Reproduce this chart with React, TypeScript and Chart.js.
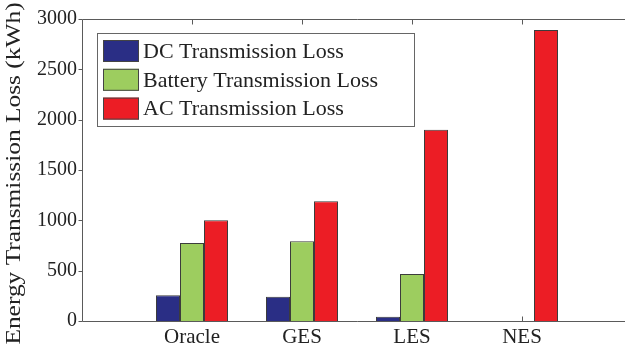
import React, { useEffect, useRef } from 'react';
import { Chart, registerables } from 'chart.js';

Chart.register(...registerables);

// Scenario names along the horizontal axis
const categories = ['Oracle', 'GES', 'LES', 'NES'];

// Energy lost per scenario (kWh)
const dcLoss = [257, 240, 42, 0];
const batteryLoss = [774, 793, 467, 0];
const acLoss = [1000, 1190, 1900, 2890];

const seriesNames = ['DC Transmission Loss', 'Battery Transmission Loss', 'AC Transmission Loss'];
const seriesColors = ['#2a2e85', '#9dcd5f', '#ec1d25'];

const yTicks = [0, 500, 1000, 1500, 2000, 2500, 3000];
const yAxisTitle = 'Energy Transmission Loss (kWh)';

const FONT = '"Liberation Serif", "Times New Roman", serif';
const AXIS_COLOR = '#5a5a5a';
const TEXT_COLOR = '#222222';

// The canvas is a little wider than the visible frame, so the right side of the axes box is cut off
const CANVAS_W = 640;
const CANVAS_H = 351;
const X_MAX = 5;

// MATLAB-like box axes, tick marks, legend and the rotated axis title
const matlabFrame = {
  id: 'matlabFrame',
  beforeDatasetsDraw(chart: any) {
    const { ctx, chartArea: a, scales } = chart;
    ctx.save();
    ctx.strokeStyle = AXIS_COLOR;
    ctx.lineWidth = 1;
    const bottom = Math.round(a.bottom) + 0.5;
    categories.forEach((_, i) => {
      const px = Math.round(scales.x.getPixelForValue(i + 1)) + 0.5;
      ctx.beginPath();
      ctx.moveTo(px, bottom);
      ctx.lineTo(px, bottom - 5);
      ctx.stroke();
    });
    ctx.restore();
  },
  afterDraw(chart: any) {
    const { ctx, chartArea: a, scales, data } = chart;
    ctx.save();
    const left = Math.round(a.left) + 0.5;
    const top = Math.round(a.top) + 0.5;
    const bottom = Math.round(a.bottom) + 0.5;

    // empty strip to the right of the last group
    const clearFrom = Math.ceil(scales.x.getPixelForValue(4.5));
    ctx.fillStyle = '#ffffff';
    ctx.fillRect(clearFrom, top + 1, CANVAS_W - clearFrom, bottom - top - 2);

    ctx.strokeStyle = AXIS_COLOR;
    ctx.lineWidth = 1;
    ctx.beginPath();
    ctx.moveTo(left, top);
    ctx.lineTo(a.right, top);
    ctx.moveTo(left, top);
    ctx.lineTo(left, bottom);
    ctx.lineTo(a.right, bottom);
    ctx.stroke();

    // tick marks on the top edge
    categories.forEach((_, i) => {
      const px = Math.round(scales.x.getPixelForValue(i + 1)) + 0.5;
      ctx.beginPath();
      ctx.moveTo(px, top);
      ctx.lineTo(px, top + 5);
      ctx.stroke();
    });

    // tick marks on the value axis
    yTicks.forEach((v) => {
      const py = Math.round(scales.y.getPixelForValue(v)) + 0.5;
      ctx.beginPath();
      ctx.moveTo(left - 4, py);
      ctx.lineTo(left, py);
      ctx.stroke();
    });

    // legend box
    const bx = 97.5;
    const by = 33.5;
    const bw = 317;
    const bh = 93;
    ctx.fillStyle = '#ffffff';
    ctx.fillRect(bx, by, bw, bh);
    ctx.strokeStyle = '#666666';
    ctx.strokeRect(bx, by, bw, bh);

    ctx.font = `22px ${FONT}`;
    ctx.textBaseline = 'middle';
    ctx.textAlign = 'left';
    data.datasets.forEach((ds: any, i: number) => {
      const sy = 40 + i * 28.8;
      ctx.fillStyle = ds.backgroundColor;
      ctx.fillRect(103, sy, 36, 22);
      ctx.strokeStyle = '#444444';
      ctx.strokeRect(103.5, sy + 0.5, 35, 21);
      ctx.fillStyle = TEXT_COLOR;
      ctx.fillText(ds.label, 143, sy + 12);
    });

    // rotated y-axis title
    ctx.translate(20, 173.5);
    ctx.rotate(-Math.PI / 2);
    ctx.scale(1.27, 1);
    ctx.font = `20px ${FONT}`;
    ctx.textAlign = 'center';
    ctx.textBaseline = 'alphabetic';
    ctx.fillStyle = TEXT_COLOR;
    ctx.fillText(yAxisTitle, 0, 0);
    ctx.restore();
  },
};

export default function App() {
  const canvasRef = useRef<HTMLCanvasElement | null>(null);

  useEffect(() => {
    const canvas = canvasRef.current;
    if (!canvas) return;

    const series = [dcLoss, batteryLoss, acLoss];
    const chart = new Chart(canvas, {
      type: 'bar',
      data: {
        datasets: series.map((values, s) => ({
          label: seriesNames[s],
          data: values.map((y, i) => ({ x: i + 1, y })),
          backgroundColor: seriesColors[s],
          borderColor: '#3c3c3c',
          borderWidth: 1,
          barThickness: 24,
          inflateAmount: 0,
        })),
      },
      options: {
        responsive: false,
        animation: false,
        devicePixelRatio: 1,
        layout: { padding: { top: 19, left: 0, right: 8, bottom: 0 } },
        plugins: {
          legend: { display: false },
          tooltip: { enabled: false },
          title: { display: false },
        },
        scales: {
          x: {
            type: 'linear',
            offset: false,
            min: 0,
            max: X_MAX,
            grid: { display: false, drawTicks: false, offset: false },
            border: { display: false },
            ticks: {
              stepSize: 1,
              includeBounds: false,
              autoSkip: false,
              maxRotation: 0,
              padding: 4,
              color: TEXT_COLOR,
              font: { family: FONT, size: 21 },
              callback: (v: any) => (Number.isInteger(v) && categories[v - 1]) || '',
            },
            afterFit: (s: any) => {
              s.height = 30;
            },
          },
          y: {
            min: 0,
            max: 3000,
            grid: { display: false, drawTicks: false },
            border: { display: false },
            ticks: {
              stepSize: 500,
              padding: 5,
              color: TEXT_COLOR,
              font: { family: FONT, size: 20 },
              callback: (v: any) => String(v),
            },
            afterFit: (s: any) => {
              s.width = 82;
            },
          },
        },
      },
      plugins: [matlabFrame],
    } as any);

    return () => chart.destroy();
  }, []);

  return (
    <div
      style={{
        position: 'fixed',
        left: 0,
        top: 0,
        width: 625,
        height: 351,
        background: '#ffffff',
        overflow: 'hidden',
      }}
    >
      <canvas ref={canvasRef} width={CANVAS_W} height={CANVAS_H} style={{ display: 'block' }} />
    </div>
  );
}
